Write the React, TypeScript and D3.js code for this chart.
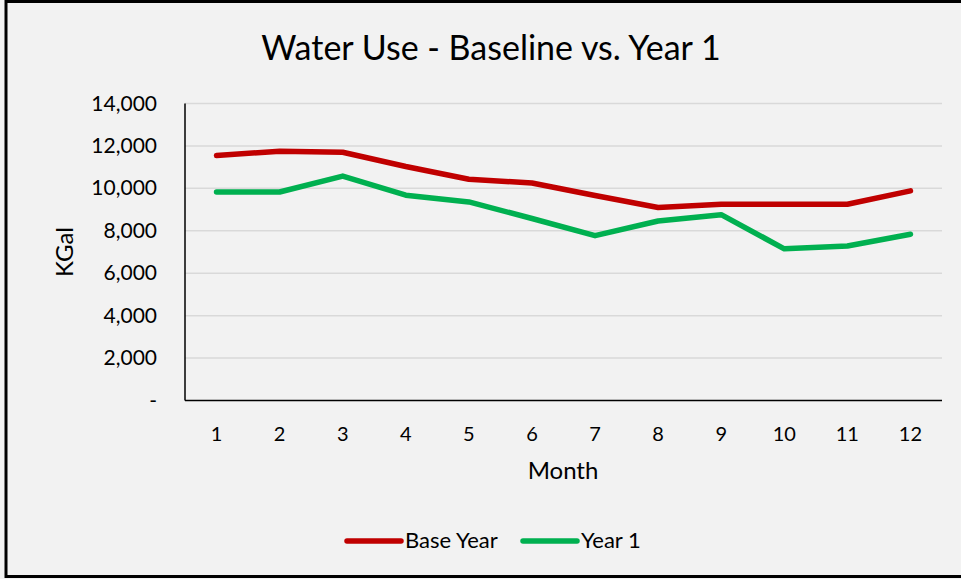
import { useEffect, useRef } from 'react';
import * as d3 from 'd3';

const months = ['1', '2', '3', '4', '5', '6', '7', '8', '9', '10', '11', '12'];
const baseYear = [11550, 11750, 11700, 11030, 10430, 10250, 9660, 9100, 9250, 9250, 9250, 9880];
const year1 = [9830, 9830, 10580, 9680, 9360, 8580, 7770, 8460, 8760, 7150, 7280, 7840];
const yTicks = [0, 2000, 4000, 6000, 8000, 10000, 12000, 14000];

const seriesNames = ['Base Year', 'Year 1'];
const seriesColors = ['#c00000', '#00b050'];

export default function App() {
  const ref = useRef<SVGSVGElement>(null);

  useEffect(() => {
    if (!ref.current) return;
    const svg = d3.select(ref.current);
    svg.selectAll('*').remove();

    const W = 961;
    const H = 579;
    const font = 'Lato, "Open Sans", sans-serif';

    // background + frame
    svg.append('rect').attr('width', W).attr('height', H).attr('fill', '#f2f2f2');
    svg.append('rect')
      .attr('x', 6).attr('y', 1.5)
      .attr('width', W + 10).attr('height', H - 4)
      .attr('fill', 'none').attr('stroke', '#000').attr('stroke-width', 3);

    const margin = { left: 185, right: 19, top: 103.5, bottom: 178.5 };
    const x = d3.scaleBand().domain(months).range([margin.left, W - margin.right]);
    const y = d3.scaleLinear().domain([0, 14000]).range([H - margin.bottom, margin.top]);

    // title
    svg.append('text')
      .attr('x', 491).attr('y', 60)
      .attr('text-anchor', 'middle')
      .attr('font-family', font).attr('font-size', 34)
      .attr('fill', '#000')
      .text('Water Use - Baseline vs. Year 1');

    // gridlines
    svg.append('g')
      .selectAll('line')
      .data(yTicks.filter(d => d > 0))
      .join('line')
      .attr('x1', margin.left).attr('x2', W - margin.right)
      .attr('y1', d => y(d)).attr('y2', d => y(d))
      .attr('stroke', '#d9d9d9').attr('stroke-width', 1.5);

    // y tick labels
    const fmt = d3.format(',');
    svg.append('g')
      .selectAll('text')
      .data(yTicks)
      .join('text')
      .attr('x', 157).attr('y', d => y(d) + 7)
      .attr('text-anchor', 'end')
      .attr('font-family', font).attr('font-size', 21)
      .attr('fill', '#000')
      .text(d => (d === 0 ? '-' : fmt(d)));

    // x tick labels
    svg.append('g')
      .selectAll('text')
      .data(months)
      .join('text')
      .attr('x', d => (x(d) as number) + x.bandwidth() / 2)
      .attr('y', 441)
      .attr('text-anchor', 'middle')
      .attr('font-family', font).attr('font-size', 20)
      .attr('fill', '#000')
      .text(d => d);

    // axes lines
    svg.append('line')
      .attr('x1', margin.left).attr('x2', margin.left)
      .attr('y1', y(14000)).attr('y2', y(0))
      .attr('stroke', '#000').attr('stroke-width', 1.5);
    svg.append('line')
      .attr('x1', margin.left).attr('x2', W - margin.right)
      .attr('y1', y(0)).attr('y2', y(0))
      .attr('stroke', '#000').attr('stroke-width', 1.5);

    // axis titles
    svg.append('text')
      .attr('x', 563).attr('y', 479)
      .attr('text-anchor', 'middle')
      .attr('font-family', font).attr('font-size', 24)
      .attr('fill', '#000')
      .text('Month');
    svg.append('text')
      .attr('transform', `translate(73,${y(7000)}) rotate(-90)`)
      .attr('text-anchor', 'middle')
      .attr('font-family', font).attr('font-size', 24)
      .attr('fill', '#000')
      .text('KGal');

    // lines
    const line = d3.line<number>()
      .x((_, i) => (x(months[i]) as number) + x.bandwidth() / 2)
      .y(d => y(d));

    [baseYear, year1].forEach((s, i) => {
      svg.append('path')
        .datum(s)
        .attr('d', line)
        .attr('fill', 'none')
        .attr('stroke', seriesColors[i])
        .attr('stroke-width', 5.5)
        .attr('stroke-linecap', 'round')
        .attr('stroke-linejoin', 'round');
    });

    // legend
    const legendX = [347, 523];
    const lg = svg.append('g');
    seriesNames.forEach((name, i) => {
      lg.append('line')
        .attr('x1', legendX[i]).attr('x2', legendX[i] + 54)
        .attr('y1', 541).attr('y2', 541)
        .attr('stroke', seriesColors[i]).attr('stroke-width', 5.5)
        .attr('stroke-linecap', 'round');
      lg.append('text')
        .attr('x', legendX[i] + 58).attr('y', 548)
        .attr('font-family', font).attr('font-size', 22)
        .attr('fill', '#000')
        .text(name);
    });
  }, []);

  return (
    <svg
      ref={ref}
      width={961}
      height={579}
      style={{ position: 'absolute', left: 0, top: 0, display: 'block' }}
    />
  );
}
